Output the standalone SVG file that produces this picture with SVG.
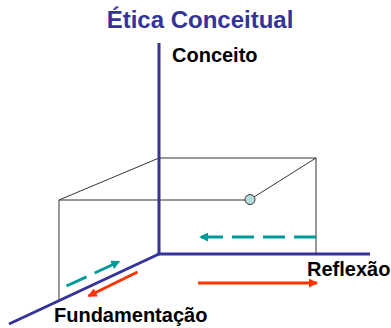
<svg xmlns="http://www.w3.org/2000/svg" width="391" height="328" viewBox="0 0 391 328">
<defs>
<style>
.axis{stroke:#333399;stroke-width:3;fill:none;stroke-linecap:butt}
.box{stroke:#333333;stroke-width:1;fill:none}
.teal{stroke:#009999;stroke-width:3;fill:none;stroke-dasharray:22 9}
.red{stroke:#ff3300;stroke-width:3;fill:none}
.lbl{font-family:"Liberation Sans",Arial,sans-serif;font-weight:bold;font-size:20px;fill:#000}
.title{font-family:"Liberation Sans",Arial,sans-serif;font-weight:bold;font-size:24px;fill:#333399}
</style>
<marker id="ht" viewBox="0 0 10 10" refX="9" refY="5" markerWidth="3.2" markerHeight="3" orient="auto" markerUnits="strokeWidth">
<path d="M0,0 L10,5 L0,10 z" fill="#009999"/>
</marker>
<marker id="hr" viewBox="0 0 10 10" refX="9" refY="5" markerWidth="3.2" markerHeight="3" orient="auto" markerUnits="strokeWidth">
<path d="M0,0 L10,5 L0,10 z" fill="#ff3300"/>
</marker>
</defs>
<rect width="391" height="328" fill="#ffffff"/>
<g id="title"><text class="title" x="200" y="28" text-anchor="middle">Ética Conceitual</text></g>
<g id="box">
<line class="box" x1="159" y1="158" x2="316" y2="158"/>
<line class="box" x1="316" y1="158" x2="316" y2="254"/>
<line class="box" x1="59" y1="200" x2="245" y2="200"/>
<line class="box" x1="59" y1="200" x2="159" y2="158"/>
<line class="box" x1="254" y1="197" x2="316" y2="158"/>
<line class="box" x1="59" y1="200" x2="59" y2="301"/>
</g>
<g id="axes">
<line class="axis" x1="159" y1="43" x2="159" y2="254"/>
<line class="axis" x1="157.5" y1="254" x2="370" y2="254"/>
<line class="axis" x1="159" y1="254" x2="9" y2="324"/>
</g>
<g id="point"><circle cx="250" cy="199.5" r="5" fill="#b3dddd" stroke="#333333" stroke-width="1"/></g>
<g id="connectors">
<line class="teal" x1="316" y1="237" x2="200" y2="237" marker-end="url(#ht)"/>
<line class="teal" x1="66.5" y1="286" x2="119.5" y2="261.5" marker-end="url(#ht)"/>
<line class="red" x1="137.5" y1="272" x2="88.5" y2="296" marker-end="url(#hr)"/>
<line class="red" x1="198" y1="283" x2="317" y2="283" marker-end="url(#hr)"/>
</g>
<g id="labels">
<text class="lbl" x="172" y="62">Conceito</text>
<text class="lbl" x="307" y="276">Reflexão</text>
<text class="lbl" x="54" y="322">Fundamentação</text>
</g>
</svg>
